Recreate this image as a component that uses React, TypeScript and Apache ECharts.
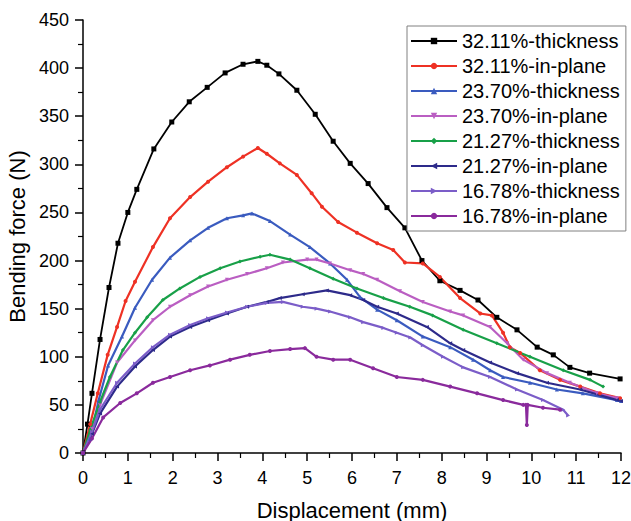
import React, { useEffect, useRef } from "react";
import * as echarts from "echarts";

const xTicks = [0, 12];
const yTicks = [0, 450];

const seriesNames = [
  "32.11%-thickness",
  "32.11%-in-plane",
  "23.70%-thickness",
  "23.70%-in-plane",
  "21.27%-thickness",
  "21.27%-in-plane",
  "16.78%-thickness",
  "16.78%-in-plane",
];

const thickness32 = [
  [0, 0], [0.1, 30], [0.2, 62], [0.38, 118], [0.58, 172], [0.78, 218], [1.0, 250], [1.2, 274],
  [1.58, 316], [1.98, 344], [2.37, 365], [2.77, 380], [3.17, 395], [3.57, 404], [3.9, 407],
  [4.1, 403], [4.37, 394], [4.77, 377], [5.18, 352], [5.58, 324], [5.96, 301], [6.36, 280],
  [6.78, 255], [7.18, 234], [7.56, 200], [7.96, 179], [8.41, 169], [8.81, 159], [9.23, 141],
  [9.68, 128], [10.13, 110], [10.49, 102], [10.86, 89], [11.3, 83], [11.98, 77],
];

const inPlane32 = [
  [0, 0], [0.16, 30], [0.33, 62], [0.55, 102], [0.76, 131], [0.95, 158], [1.16, 178], [1.56, 214],
  [1.94, 244], [2.39, 266], [2.79, 282], [3.21, 297], [3.57, 308], [3.9, 317], [4.1, 311],
  [4.39, 301], [4.77, 289], [5.1, 270], [5.33, 256], [5.69, 240], [6.11, 229], [6.56, 218],
  [6.92, 211], [7.18, 198], [7.58, 197], [7.96, 183], [8.41, 161], [8.86, 145], [9.12, 143],
  [9.37, 125], [9.52, 110], [9.75, 104], [10.19, 86], [10.64, 76], [11.09, 69], [11.53, 62],
  [11.98, 57],
];

const thickness23 = [
  [0, 0], [0.16, 15], [0.35, 55], [0.56, 91], [0.87, 121], [1.16, 151], [1.54, 180], [1.94, 203],
  [2.39, 221], [2.79, 234], [3.21, 244], [3.57, 247], [3.77, 249], [4.17, 241], [4.62, 227],
  [5.06, 214], [5.51, 197], [5.89, 180], [6.18, 162], [6.56, 149], [7.0, 138], [7.58, 121],
  [8.19, 110], [8.7, 97], [9.08, 86], [9.37, 79], [9.97, 73], [10.57, 66], [11.15, 62],
  [11.91, 55], [12, 54],
];

const inPlane23 = [
  [0, 0], [0.2, 25], [0.38, 50], [0.76, 94], [1.16, 117], [1.56, 138], [1.94, 152], [2.39, 164],
  [2.79, 173], [3.21, 180], [3.66, 186], [4.1, 192], [4.46, 198], [5.0, 201], [5.21, 201],
  [5.51, 197], [5.96, 190], [6.25, 186], [6.56, 180], [7.07, 168], [7.58, 157], [8.19, 147],
  [8.48, 143], [9.08, 131], [9.46, 114], [9.82, 97], [10.35, 83], [10.86, 73], [11.46, 62],
  [11.91, 57],
];

const thickness21 = [
  [0, 0], [0.16, 24], [0.38, 53], [0.6, 79], [0.89, 107], [1.16, 125], [1.43, 141], [1.78, 159],
  [2.16, 171], [2.61, 183], [3.06, 192], [3.5, 199], [3.95, 204], [4.17, 206], [4.62, 201],
  [5.06, 192], [5.58, 181], [6.11, 171], [6.7, 161], [7.29, 152], [7.8, 143], [8.48, 128],
  [9.23, 114], [9.97, 100], [10.71, 86], [11.31, 76], [11.6, 69],
];

const inPlane21 = [
  [0, 0], [0.2, 20], [0.38, 41], [0.76, 69], [1.16, 90], [1.56, 107], [1.94, 121], [2.39, 131],
  [2.79, 138], [3.21, 145], [3.66, 152], [4.1, 157], [4.39, 161], [4.9, 165], [5.44, 169],
  [5.96, 164], [6.25, 159], [6.56, 152], [7.0, 145], [7.67, 131], [8.19, 114], [8.48, 107],
  [9.08, 94], [9.68, 83], [10.35, 73], [11.09, 66], [11.91, 55], [12, 54],
];

const thickness16 = [
  [0, 0], [0.2, 22], [0.38, 45], [0.76, 73], [1.16, 93], [1.56, 110], [1.94, 123], [2.39, 133],
  [2.79, 140], [3.21, 146], [3.66, 152], [4.1, 156], [4.46, 157], [4.9, 152], [5.21, 150],
  [5.51, 147], [5.96, 141], [6.25, 136], [6.7, 130], [7.0, 125], [7.3, 120], [7.58, 112],
  [8.03, 100], [8.48, 89], [9.08, 79], [9.68, 66], [10.26, 55], [10.71, 45], [10.82, 39],
];

const inPlane16 = [
  [0, 0], [0.2, 15], [0.45, 37], [0.83, 52], [1.2, 62], [1.56, 73], [1.94, 79], [2.39, 86],
  [2.83, 91], [3.28, 97], [3.72, 102], [4.17, 106], [4.62, 108], [4.95, 109], [5.21, 100],
  [5.58, 97], [5.96, 97], [6.47, 88], [7.0, 79], [7.58, 76], [8.19, 69], [8.79, 62], [9.37, 55],
  [9.82, 50], [9.88, 50], [9.9, 29], [9.92, 50], [10.26, 47], [10.64, 45],
];

const seriesData = [
  thickness32, inPlane32, thickness23, inPlane23, thickness21, inPlane21, thickness16, inPlane16,
];

const colors = [
  "#000000", "#EE3124", "#3A5BBF", "#BA5EC2", "#18A048", "#2D2A8A", "#7B5DC8", "#8A2A9C",
];
const symbols = ["rect", "circle", "triangle", "triangle", "diamond", "triangle", "triangle", "circle"];
const rotations = [0, 0, 0, 180, 0, 90, -90, 0];

const FONT = "Liberation Sans, Arial, sans-serif";

export default function App() {
  const ref = useRef<HTMLDivElement>(null);
  useEffect(() => {
    if (!ref.current) return;
    const chart = echarts.init(ref.current, null, { renderer: "svg" });
    chart.setOption({
      animation: false,
      backgroundColor: "#ffffff",
      textStyle: { fontFamily: FONT },
      grid: { left: 83, right: 10, top: 20, bottom: 68, containLabel: false, outerBoundsMode: "none" },
      legend: {
        orient: "vertical",
        left: 407,
        top: 26,
        padding: [5, 6, 5, 3],
        itemWidth: 46,
        itemHeight: 8,
        itemGap: 5,
        backgroundColor: "#ffffff",
        borderColor: "#808080",
        borderWidth: 1,
        borderRadius: 0,
        textStyle: { fontSize: 20, color: "#000", fontFamily: FONT, lineHeight: 20 },
        data: seriesNames,
      },
      xAxis: {
        type: "value",
        min: xTicks[0],
        max: xTicks[1],
        interval: 1,
        name: "Displacement (mm)",
        nameLocation: "middle",
        nameGap: 46,
        nameTextStyle: { fontSize: 22, color: "#000", fontFamily: FONT },
        axisLine: { show: true, lineStyle: { color: "#000", width: 1.5 } },
        axisTick: { show: true, length: 8, lineStyle: { color: "#000", width: 1.5 } },
        minorTick: { show: true, splitNumber: 2, length: 5, lineStyle: { color: "#000", width: 1.2 } },
        axisLabel: { fontSize: 18, color: "#000", margin: 16, fontFamily: FONT },
        splitLine: { show: false },
      },
      yAxis: {
        type: "value",
        min: yTicks[0],
        max: yTicks[1],
        interval: 50,
        name: "Bending force (N)",
        nameLocation: "middle",
        nameGap: 53,
        nameTextStyle: { fontSize: 22, color: "#000", fontFamily: FONT },
        axisLine: { show: true, lineStyle: { color: "#000", width: 1.5 } },
        axisTick: { show: true, length: 8, lineStyle: { color: "#000", width: 1.5 } },
        minorTick: { show: true, splitNumber: 2, length: 5, lineStyle: { color: "#000", width: 1.2 } },
        axisLabel: { fontSize: 18, color: "#000", margin: 14, fontFamily: FONT },
        splitLine: { show: false },
      },
      series: seriesNames.map((name, i) => ({
        name,
        type: "line",
        data: seriesData[i],
        color: colors[i],
        showSymbol: true,
        symbol: symbols[i],
        symbolRotate: rotations[i],
        symbolSize: i === 0 ? 5 : 4,
        lineStyle: { width: i === 0 ? 1.8 : 2.2, color: colors[i] },
        itemStyle: { color: colors[i] },
        emphasis: { disabled: true },
        z: 2,
      })),
    });
    return () => chart.dispose();
  }, []);
  return <div ref={ref} style={{ width: 631, height: 521, position: "absolute", left: 0, top: 0 }} />;
}
